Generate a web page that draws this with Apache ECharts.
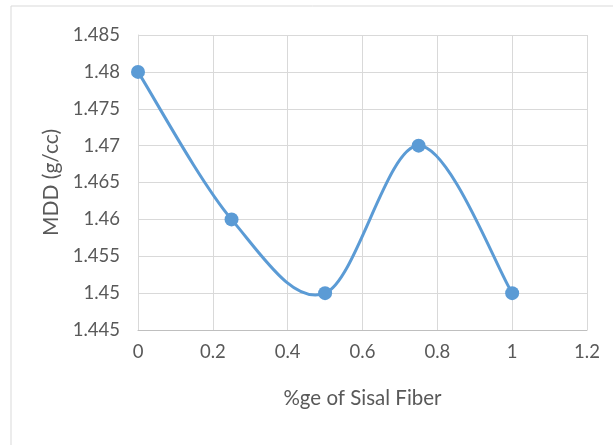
<!DOCTYPE html>
<html>
<head>
<meta charset="utf-8">
<script src="https://cdn.jsdelivr.net/npm/echarts@6/dist/echarts.min.js"></script>
<style>
html,body{margin:0;padding:0;background:#fff;}
#chart{width:613px;height:445px;}
</style>
</head>
<body>
<div id="chart"></div>
<script>
const xValues = [0, 0.25, 0.5, 0.75, 1];
const mddValues = [1.48, 1.46, 1.45, 1.47, 1.45];
const xTitle = '%ge of Sisal Fiber';
const yTitle = 'MDD (g/cc)';

const points = xValues.map((x, i) => [x, mddValues[i]]);
const chart = echarts.init(document.getElementById('chart'));
const font = 'Lato, "Open Sans", sans-serif';
const textColor = '#595959';
const lineColor = '#5B9BD5';

// Excel-style smoothed line (Catmull-Rom Bezier) drawn in pixel space via api.coord
function renderCurve(params, api) {
  if (params.dataIndex !== 0) return null;
  const p = points.map(pt => api.coord(pt));
  const n = p.length;
  let d = 'M' + p[0][0] + ' ' + p[0][1];
  for (let i = 0; i < n - 1; i++) {
    const p0 = p[Math.max(i - 1, 0)], p1 = p[i], p2 = p[i + 1], p3 = p[Math.min(i + 2, n - 1)];
    const c1x = p1[0] + (p2[0] - p0[0]) / 6, c1y = p1[1] + (p2[1] - p0[1]) / 6;
    const c2x = p2[0] - (p3[0] - p1[0]) / 6, c2y = p2[1] - (p3[1] - p1[1]) / 6;
    d += ' C' + c1x + ' ' + c1y + ' ' + c2x + ' ' + c2y + ' ' + p2[0] + ' ' + p2[1];
  }
  return {
    type: 'path',
    shape: { pathData: d },
    style: { fill: 'none', stroke: lineColor, lineWidth: 3, lineCap: 'round', lineJoin: 'round' }
  };
}

chart.setOption({
  animation: false,
  backgroundColor: '#fff',
  graphic: [{
    type: 'rect',
    shape: { x: 11, y: 6, width: 640, height: 480 },
    style: { fill: 'none', stroke: '#d9d9d9', lineWidth: 1 },
    silent: true
  }],
  grid: { left: 138, top: 35, width: 449, height: 295 },
  xAxis: {
    type: 'value', min: 0, max: 1.2, interval: 0.2,
    name: xTitle, nameLocation: 'middle', nameGap: 58,
    nameTextStyle: { color: textColor, fontFamily: font, fontSize: 20.5 },
    axisLine: { show: true, lineStyle: { color: '#bfbfbf', width: 1 } },
    axisTick: { show: false },
    splitLine: { show: true, lineStyle: { color: '#d9d9d9', width: 1 } },
    axisLabel: {
      color: textColor, fontFamily: font, fontSize: 18.5, margin: 13,
      formatter: v => String(Math.round(v * 10) / 10)
    }
  },
  yAxis: {
    type: 'value', min: 1.445, max: 1.485, interval: 0.005,
    name: yTitle, nameLocation: 'middle', nameGap: 69, nameRotate: 90,
    nameTextStyle: { color: textColor, fontFamily: font, fontSize: 21 },
    axisLine: { show: true, lineStyle: { color: '#d9d9d9', width: 1 } },
    axisTick: { show: false },
    splitLine: { show: true, lineStyle: { color: '#d9d9d9', width: 1 } },
    axisLabel: {
      color: textColor, fontFamily: font, fontSize: 18.5, margin: 18,
      formatter: v => String(Math.round(v * 1000) / 1000)
    }
  },
  series: [{
    type: 'custom',
    data: points,
    renderItem: renderCurve,
    clip: false,
    z: 2
  }, {
    type: 'scatter',
    data: points,
    symbol: 'circle',
    symbolSize: 14,
    itemStyle: { color: lineColor, opacity: 1 },
    z: 3
  }]
});
</script>
</body>
</html>
